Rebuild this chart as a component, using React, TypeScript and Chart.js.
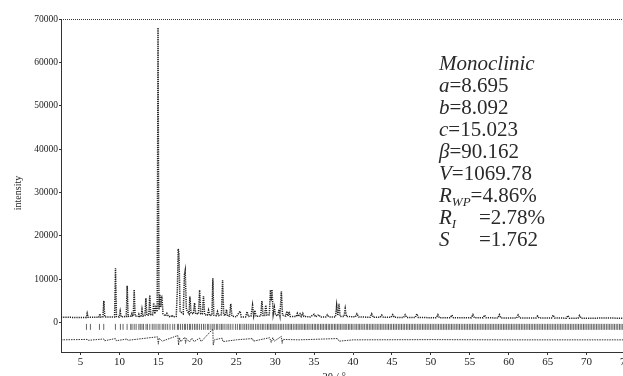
import React, { useEffect, useRef } from "react";
import { Chart, registerables } from "chart.js";

Chart.register(...registerables);

// Observed pattern (2θ, intensity)
const X_OBS = [
  2.5, 3.5, 4.5, 5.5, 5.75, 5.86, 5.98, 7.35, 7.5, 7.62, 7.88, 8.0, 8.12, 9.38, 9.5, 9.62,
  9.98, 10.1, 10.22, 10.88, 11.0, 11.12, 11.5, 11.6, 11.7, 11.78, 11.9, 12.02, 12.4, 12.5, 12.6,
  12.78, 12.9, 13.02, 13.28, 13.4, 13.52, 13.78, 13.9, 14.02, 14.28, 14.4, 14.55, 14.7, 14.85,
  14.96, 15.08, 15.2, 15.3, 15.45, 15.6, 15.9, 16.1, 16.3, 16.6, 16.75, 16.9, 17.3, 17.45, 17.55,
  17.65, 17.8, 18.2, 18.35, 18.45, 18.6, 18.95, 19.05, 19.2, 19.5, 19.65, 19.8, 20.15, 20.3, 20.45,
  20.65, 20.8, 20.95, 21.3, 21.45, 21.6, 21.88, 22.0, 22.12, 22.45, 22.6, 22.75, 23.1, 23.25, 23.4,
  23.6, 23.75, 23.9, 24.15, 24.3, 24.45, 25.0, 25.5, 25.65, 26.2, 26.4, 26.55, 26.9, 27.1, 27.25,
  27.4, 27.55, 28.15, 28.3, 28.45, 28.65, 28.8, 28.95, 29.25, 29.4, 29.5, 29.6, 29.75, 29.9, 30.05,
  30.35, 30.5, 30.62, 30.8, 30.95, 31.35, 31.5, 31.65, 31.8, 31.95, 32.7, 32.85, 33.0, 33.2, 33.35,
  33.55, 33.7, 34.5, 35.0, 35.2, 35.6, 35.8, 36.5, 36.7, 36.9, 37.75, 37.9, 38.05, 38.2, 38.35,
  38.85, 39.0, 39.15, 40.3, 40.5, 40.7, 42.2, 42.4, 42.6, 43.5, 43.7, 43.9, 44.9, 45.1, 45.3,
  46.5, 46.7, 46.9, 48.0, 48.2, 48.4, 50.7, 50.9, 51.1, 52.5, 52.7, 52.9, 55.2, 55.4, 55.6,
  56.7, 56.9, 57.1, 58.6, 58.8, 59.0, 61.0, 61.2, 61.4, 63.5, 63.7, 63.9, 65.5, 65.7, 65.9,
  67.4, 67.6, 67.8, 68.9, 69.1, 69.3, 71.0, 72.5, 74.0, 76.0, 77.5,
];
const Y_OBS = [
  1200, 1200, 1150, 1150, 1150, 2100, 1200, 1200, 2000, 1250, 1300, 5000, 1300, 1300, 12500, 1400,
  1300, 2600, 1300, 1400, 8500, 1400, 1500, 2000, 1500, 1500, 7600, 1500, 1400, 1900, 1400,
  1400, 3000, 1500, 1600, 5600, 1700, 1700, 6300, 1800, 1800, 4500, 2000, 4000, 2500,
  68000, 3000, 6500, 3500, 6200, 2000, 1500, 2100, 1400, 1300, 1700, 1300, 1400, 8000, 17000,
  16000, 2500, 2000, 11000, 12000, 3000, 2000, 6000, 2200, 2000, 4500, 2000, 2000, 7500, 2000,
  2000, 6100, 1800, 1700, 2800, 1600, 1700, 10200, 1700, 1600, 2500, 1600, 1800, 9800, 1800,
  1600, 3000, 1500, 1500, 4300, 1500, 1300, 2600, 1300, 1300, 2500, 1400, 1500, 4000, 1500,
  2800, 1400, 1500, 5000, 1600, 1600, 4000, 1700, 1800, 7500, 5000, 7600, 1900, 3500, 1700,
  1600, 3000, 1700, 7200, 1700, 1500, 2600, 1500, 2500, 1400, 1400, 2100, 1400, 2000, 1400,
  2100, 1400, 1300, 1900, 1300, 1800, 1300, 1300, 1800, 1300, 1300, 4000, 1600, 4300, 1400,
  1400, 3200, 1400, 1300, 2000, 1300, 1200, 2000, 1200, 1200, 1700, 1200, 1200, 1800, 1200,
  1150, 1800, 1150, 1150, 2000, 1150, 1100, 1800, 1100, 1100, 1700, 1100, 1100, 1800, 1100,
  1100, 1700, 1100, 1050, 1800, 1050, 1050, 1700, 1050, 1050, 1500, 1050, 1050, 1700, 1050,
  1000, 1600, 1000, 1000, 1600, 1000, 1000, 1050, 1000, 1000, 1000,
];

// Difference curve
const X_DIFF = [
  2.5, 5.9, 6.0, 8.0, 8.1, 9.5, 9.6, 11.0, 11.1, 14.9, 15.0, 15.1, 15.5, 17.5, 17.6, 17.7, 17.9,
  18.4, 18.5, 18.6, 19.0, 19.3, 19.6, 20.3, 20.5, 22.0, 22.05, 22.2, 23.2, 23.3, 25.0, 27.1, 27.2,
  29.3, 29.5, 29.7, 29.9, 30.8, 30.9, 31.0, 33.0, 38.0, 38.2, 40.0, 50.0, 60.0, 70.0, 77.5,
];
const Y_DIFF = [
  -4000, -3900, -4100, -3800, -4200, -3700, -4200, -3800, -4100, -3300, -5000, -3600, -4300,
  -3000, -5200, -3500, -4400, -3400, -4800, -3700, -4500, -3600, -4400, -3600, -4400, -1500,
  -5200, -4000, -3600, -4400, -4000, -3700, -4300, -3500, -4600, -3500, -4300, -3200, -4800,
  -3900, -4000, -3700, -4300, -4000, -3950, -4000, -4000, -4000,
];

// Bragg reflection positions
const BRAGG = [
  5.77, 6.28, 7.44, 7.99, 9.49, 10.13, 10.47, 10.99, 11.45, 11.62, 11.9, 12.15, 12.5, 12.68, 12.9,
  13.1, 13.42, 13.6, 13.9, 14.22, 14.45, 14.7, 14.97, 15.2, 15.5, 15.7, 15.95, 16.2, 16.5, 16.85,
  17.1, 17.45, 17.6, 17.85, 18.1, 18.35, 18.5, 18.75, 19.0, 19.15, 19.4, 19.65, 19.85,
  20.05, 20.3, 20.55, 20.8, 21.02, 21.3, 21.48, 21.75, 22.0, 22.18, 22.45, 22.63, 22.9, 23.12, 23.3,
  23.55, 23.82, 24.05, 24.3, 24.58, 24.9, 25.15, 25.42, 25.6, 25.87, 26.1, 26.32, 26.55, 26.8,
  27.02, 27.2, 27.47, 27.7, 27.9, 28.15, 28.36, 28.55, 28.8, 29.02, 29.2, 29.42, 29.6, 29.82, 30.0,
  30.22, 30.45, 30.66, 30.85, 31.06, 31.3, 31.52, 31.7, 31.92, 32.1, 32.33, 32.55, 32.76, 32.95,
  33.17, 33.35, 33.56, 33.77, 33.95, 34.18, 34.36, 34.6, 34.8, 35.02, 35.2, 35.42, 35.6, 35.83,
  36.02, 36.2, 36.43, 36.6, 36.82, 37.0, 37.22, 37.4, 37.63, 37.8, 38.02, 38.2, 38.41, 38.6, 38.83,
  39.0, 39.2, 39.43, 39.6, 39.82, 40.0, 40.25, 40.43, 40.66, 40.85, 41.05, 41.27, 41.46, 41.7,
  41.88, 42.1, 42.3, 42.52, 42.7, 42.93, 43.12, 43.33, 43.55, 43.73, 43.95, 44.15, 44.37, 44.56,
  44.78, 44.97, 45.2, 45.4, 45.6, 45.82, 46.02, 46.23, 46.44, 46.63, 46.86, 47.05, 47.26, 47.47,
  47.66, 47.88, 48.07, 48.3, 48.5, 48.7, 48.92, 49.12, 49.33, 49.53, 49.74, 49.95, 50.16, 50.37,
  50.56, 50.78, 50.98, 51.2, 51.4, 51.61, 51.82, 52.02, 52.24, 52.44, 52.65, 52.85, 53.07, 53.27,
  53.48, 53.68, 53.9, 54.1, 54.31, 54.52, 54.72, 54.94, 55.14, 55.35, 55.56, 55.76, 55.98, 56.18,
  56.4, 56.6, 56.81, 57.02, 57.22, 57.44, 57.64, 57.85, 58.06, 58.27, 58.48, 58.68, 58.9, 59.1,
  59.32, 59.52, 59.73, 59.94, 60.15, 60.36, 60.56, 60.78, 60.98, 61.2, 61.4, 61.62, 61.82, 62.04,
  62.24, 62.46, 62.66, 62.88, 63.08, 63.3, 63.5, 63.72, 63.92, 64.14, 64.34, 64.56, 64.76, 64.98,
  65.18, 65.4, 65.6, 65.82, 66.02, 66.24, 66.45, 66.66, 66.86, 67.08, 67.28, 67.5, 67.7, 67.92,
  68.12, 68.34, 68.55, 68.76, 68.96, 69.18, 69.38, 69.6, 69.8, 70.02, 70.22, 70.44, 70.65, 70.86,
  71.06, 71.28, 71.48, 71.7, 71.9, 72.12, 72.32, 72.54, 72.75, 72.96, 73.16, 73.38, 73.58, 73.8,
  74.0, 74.22, 74.42, 74.64, 74.85, 75.06, 75.26, 75.48, 75.68, 75.9, 76.1, 76.32, 76.52, 76.74,
  76.95, 77.16, 77.36,
];
const BRAGG_LEVEL = -1000;

const X_TICKS = [5, 10, 15, 20, 25, 30, 35, 40, 45, 50, 55, 60, 65, 70, 75];
const Y_TICKS = [0, 10000, 20000, 30000, 40000, 50000, 60000, 70000];

const X_TITLE = "2θ / °";
const Y_TITLE = "intensity";

// Annotation lines: [italic part, subscript, rest]
const INFO_LINES: [string, string, string][] = [
  ["Monoclinic", "", ""],
  ["a", "", "=8.695"],
  ["b", "", "=8.092"],
  ["c", "", "=15.023"],
  ["β", "", "=90.162"],
  ["V", "", "=1069.78"],
  ["R", "WP", "=4.86%"],
  ["R", "I", "=2.78%"],
  ["S", "", "=1.762"],
];

const SERIF = "'Liberation Serif', 'DejaVu Serif', serif";

const overlayPlugin = {
  id: "overlay",
  afterDraw(chart: any) {
    const { ctx, chartArea } = chart;
    ctx.save();
    // top dotted border
    ctx.strokeStyle = "#333";
    ctx.lineWidth = 1;
    ctx.setLineDash([1, 1]);
    ctx.beginPath();
    ctx.moveTo(chartArea.left, Math.round(chartArea.top) + 0.5);
    ctx.lineTo(chartArea.right, Math.round(chartArea.top) + 0.5);
    ctx.stroke();
    ctx.setLineDash([]);

    // axis titles
    ctx.fillStyle = "#222";
    ctx.font = `11px ${SERIF}`;
    ctx.textAlign = "center";
    ctx.textBaseline = "middle";
    ctx.fillText(X_TITLE, 334, 377);
    ctx.save();
    ctx.translate(18, 193);
    ctx.rotate(-Math.PI / 2);
    ctx.font = `10px ${SERIF}`;
    ctx.fillText(Y_TITLE, 0, 0);
    ctx.restore();

    // info block
    ctx.fillStyle = "#2a2a2a";
    ctx.textAlign = "left";
    ctx.textBaseline = "alphabetic";
    const x0 = 439;
    let y = 70;
    const step = 22;
    INFO_LINES.forEach(([it, sub, rest], i) => {
      ctx.font = `italic 21px ${SERIF}`;
      ctx.fillText(it, x0, y);
      let x = x0 + ctx.measureText(it).width;
      if (sub) {
        ctx.font = `italic 13px ${SERIF}`;
        ctx.fillText(sub, x, y + 4);
        x += ctx.measureText(sub).width;
      }
      if (rest) {
        ctx.font = `21px ${SERIF}`;
        if (i === 7 || i === 8) x = 479;
        ctx.fillText(rest, x, y);
      }
      y += step;
    });
    ctx.restore();
  },
};

export default function App() {
  const ref = useRef<HTMLCanvasElement>(null);
  useEffect(() => {
    if (!ref.current) return;
    const obs = X_OBS.map((x, i) => ({ x, y: Y_OBS[i] }));
    const diff = X_DIFF.map((x, i) => ({ x, y: Y_DIFF[i] }));
    const bragg = BRAGG.map((x) => ({ x, y: BRAGG_LEVEL }));
    const chart = new Chart(ref.current, {
      type: "scatter",
      data: {
        datasets: [
          {
            label: "Observed",
            data: obs,
            showLine: true,
            borderColor: "#222",
            borderWidth: 1.5,
            borderDash: [1.2, 1],
            pointRadius: 0,
            tension: 0,
          },
          {
            label: "Difference",
            data: diff,
            showLine: true,
            borderColor: "#333",
            borderWidth: 1,
            borderDash: [1.5, 1],
            pointRadius: 0,
            tension: 0,
          },
          {
            label: "Bragg",
            data: bragg,
            showLine: false,
            pointStyle: "line",
            rotation: 90,
            pointRadius: 3,
            borderColor: "#666",
            borderWidth: 1,
          },
        ],
      },
      plugins: [overlayPlugin],
      options: {
        responsive: false,
        animation: false,
        devicePixelRatio: 1,
        layout: { padding: { top: 19, right: 4, left: 0, bottom: 0 } },
        plugins: { legend: { display: false }, tooltip: { enabled: false } },
        scales: {
          x: {
            type: "linear",
            min: 2.5,
            max: 77.5,
            afterFit: (axis: any) => {
              axis.height = 38;
            },
            afterBuildTicks: (axis: any) => {
              axis.ticks = X_TICKS.map((v) => ({ value: v }));
            },
            grid: { drawOnChartArea: false, tickLength: 3, color: "#333" },
            border: { color: "#333", dash: [3, 1] },
            ticks: {
              color: "#222",
              font: { family: SERIF, size: 11 },
              padding: 1,
              maxRotation: 0,
              callback: (v: any) => String(v),
            },
          },
          y: {
            type: "linear",
            min: -6800,
            max: 70000,
            afterFit: (axis: any) => {
              axis.width = 61;
            },
            afterBuildTicks: (axis: any) => {
              axis.ticks = Y_TICKS.map((v) => ({ value: v }));
            },
            grid: { drawOnChartArea: false, tickLength: 2, color: "#333" },
            border: { color: "#333", dash: [1, 1] },
            ticks: {
              color: "#222",
              font: { family: SERIF, size: 9.5 },
              padding: 1,
              callback: (v: any) => String(v),
            },
          },
        },
      },
    } as any);
    return () => chart.destroy();
  }, []);

  return (
    <div
      style={{
        position: "fixed",
        left: 0,
        top: 0,
        width: 623,
        height: 376,
        overflow: "hidden",
        background: "#fff",
      }}
    >
      <canvas ref={ref} width={650} height={390} style={{ display: "block" }} />
    </div>
  );
}
